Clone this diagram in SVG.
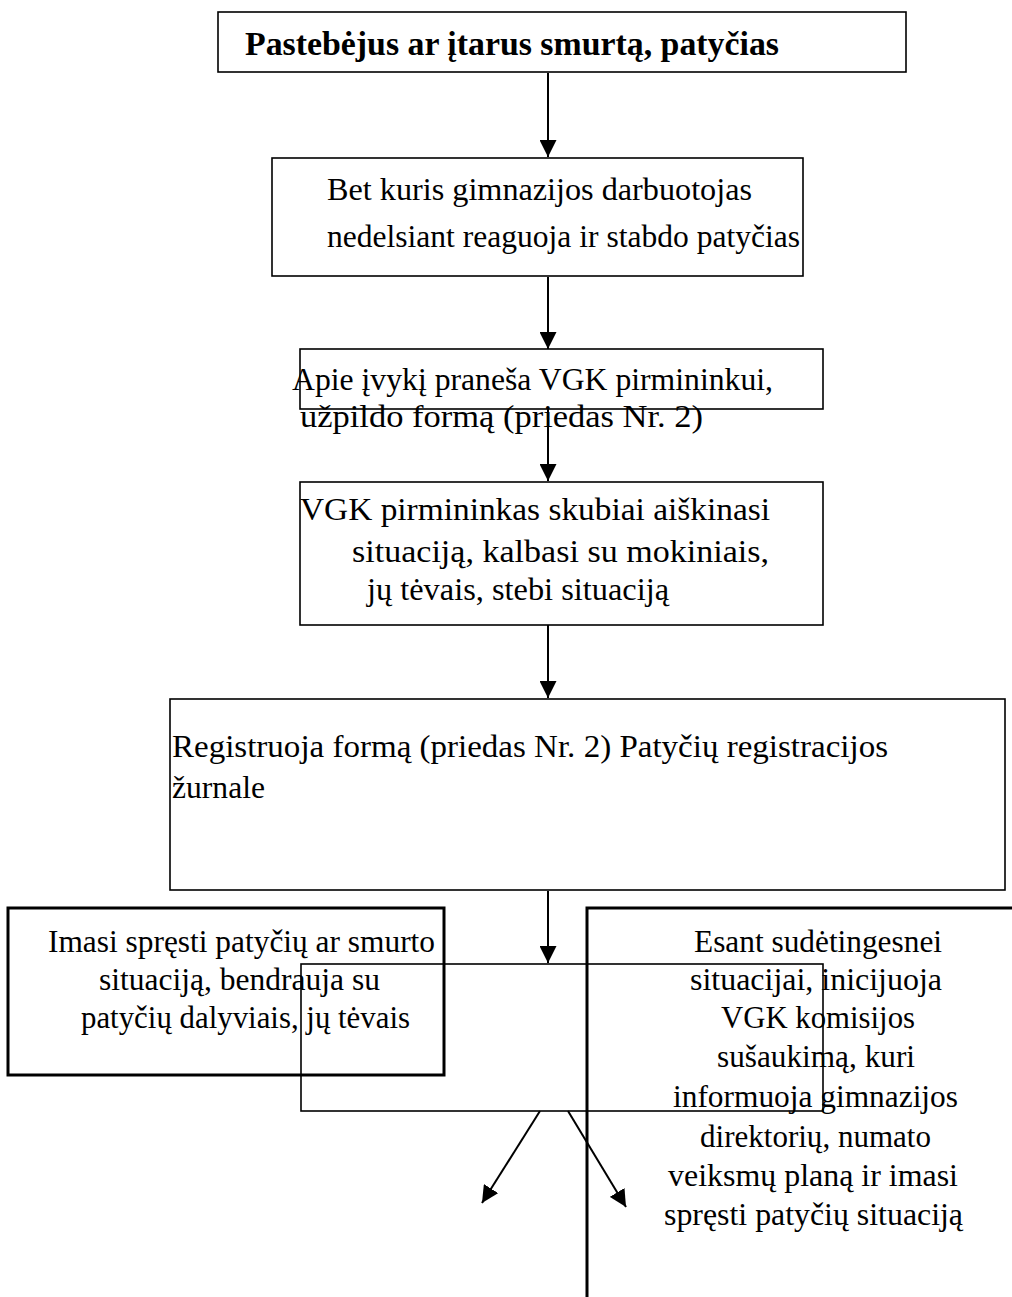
<svg xmlns="http://www.w3.org/2000/svg" width="1012" height="1297" viewBox="0 0 1012 1297">
<style>
.box{fill:none;stroke:#000;stroke-width:1.6}
.thick{fill:none;stroke:#000;stroke-width:3}
.ln{stroke:#000;stroke-width:2;fill:none}
</style>
<defs>
<marker id="ah2" viewBox="0 0 10 10" refX="10" refY="5" markerWidth="17" markerHeight="17" markerUnits="userSpaceOnUse" orient="auto">
<path d="M0,0 L10,5 L0,10 z" fill="#000"/>
</marker>
</defs>
<rect width="1012" height="1297" fill="#fff"/>
<g id="connectors">
<line class="ln" x1="548" y1="73" x2="548" y2="157" marker-end="url(#ah2)"/>
<line class="ln" x1="548" y1="277" x2="548" y2="349" marker-end="url(#ah2)"/>
<line class="ln" x1="548" y1="409" x2="548" y2="481" marker-end="url(#ah2)"/>
<line class="ln" x1="548" y1="625" x2="548" y2="698" marker-end="url(#ah2)"/>
<line class="ln" x1="548" y1="891" x2="548" y2="963" marker-end="url(#ah2)"/>
<line class="ln" x1="540" y1="1111" x2="482" y2="1203" marker-end="url(#ah2)"/>
<line class="ln" x1="568" y1="1111" x2="626" y2="1207" marker-end="url(#ah2)"/>
</g>
<g font-family="Liberation Serif, Times New Roman, serif" font-size="31.5" fill="#000">
<g id="n1">
<rect class="box" x="218" y="12" width="688" height="60"/>
<text font-weight="bold" font-size="33" x="245" y="55" textLength="534" lengthAdjust="spacingAndGlyphs">Pastebėjus ar įtarus smurtą, patyčias</text>
</g>
<g id="n2">
<rect class="box" x="272" y="158" width="531" height="118"/>
<text x="327" y="200" textLength="425" lengthAdjust="spacingAndGlyphs">Bet kuris gimnazijos darbuotojas</text>
<text x="327" y="247" textLength="473" lengthAdjust="spacingAndGlyphs">nedelsiant reaguoja ir stabdo patyčias</text>
</g>
<g id="n3">
<rect class="box" x="300" y="349" width="523" height="60"/>
<text x="292" y="390" textLength="481" lengthAdjust="spacingAndGlyphs">Apie įvykį praneša VGK pirmininkui,</text>
<text x="300" y="427" textLength="403" lengthAdjust="spacingAndGlyphs">užpildo formą (priedas Nr. 2)</text>
</g>
<g id="n4">
<rect class="box" x="300" y="482" width="523" height="143"/>
<text x="300" y="520" textLength="470" lengthAdjust="spacingAndGlyphs">VGK pirmininkas skubiai aiškinasi</text>
<text x="352" y="562" textLength="417" lengthAdjust="spacingAndGlyphs">situaciją, kalbasi su mokiniais,</text>
<text x="367" y="600" textLength="302" lengthAdjust="spacingAndGlyphs">jų tėvais, stebi situaciją</text>
</g>
<g id="n5">
<rect class="box" x="170" y="699" width="835" height="191"/>
<text x="172" y="757" textLength="716" lengthAdjust="spacingAndGlyphs">Registruoja formą (priedas Nr. 2) Patyčių registracijos</text>
<text x="172" y="798" textLength="93" lengthAdjust="spacingAndGlyphs">žurnale</text>
</g>
<g id="n6">
<rect class="box" x="301" y="964" width="522" height="147"/>
</g>
<g id="n7">
<rect class="thick" x="8" y="908" width="436" height="167"/>
<text x="48" y="952" textLength="387" lengthAdjust="spacingAndGlyphs">Imasi spręsti patyčių ar smurto</text>
<text x="99" y="990" textLength="281" lengthAdjust="spacingAndGlyphs">situaciją, bendrauja su</text>
<text x="81" y="1028" textLength="329" lengthAdjust="spacingAndGlyphs">patyčių dalyviais, jų tėvais</text>
</g>
<g id="n8">
<path class="thick" d="M587,1297 L587,908 L1014,908"/>
<text x="694" y="952" textLength="248" lengthAdjust="spacingAndGlyphs">Esant sudėtingesnei</text>
<text x="690" y="990" textLength="252" lengthAdjust="spacingAndGlyphs">situacijai, inicijuoja</text>
<text x="721" y="1028" textLength="194" lengthAdjust="spacingAndGlyphs">VGK komisijos</text>
<text x="717" y="1067" textLength="198" lengthAdjust="spacingAndGlyphs">sušaukimą, kuri</text>
<text x="673" y="1107" textLength="285" lengthAdjust="spacingAndGlyphs">informuoja gimnazijos</text>
<text x="700" y="1147" textLength="231" lengthAdjust="spacingAndGlyphs">direktorių, numato</text>
<text x="668" y="1186" textLength="290" lengthAdjust="spacingAndGlyphs">veiksmų planą ir imasi</text>
<text x="664" y="1225" textLength="299" lengthAdjust="spacingAndGlyphs">spręsti patyčių situaciją</text>
</g>
</g>
</svg>
